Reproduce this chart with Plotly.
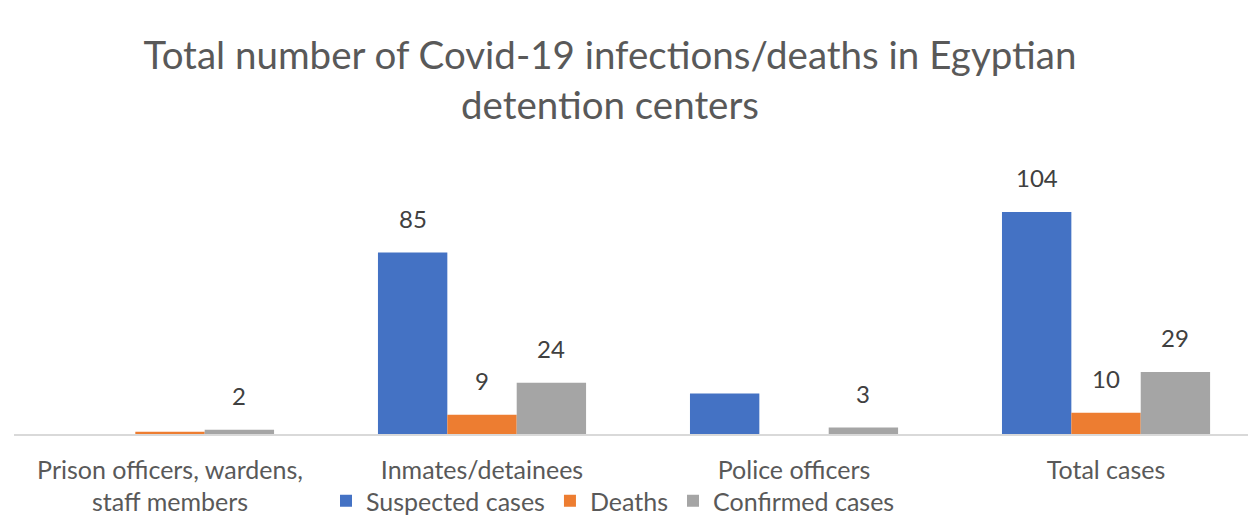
import plotly.graph_objects as go

categories = ["Prison officers, wardens,<br>staff members", "Inmates/detainees", "Police officers", "Total cases"]
series_names = ["Suspected cases", "Deaths", "Confirmed cases"]
suspected = [0, 85, 19, 104]
deaths = [1, 9, 0, 10]
confirmed = [2, 24, 3, 29]
# which values carry a data label in the original chart
suspected_labels = ["", "85", "", "104"]
deaths_labels = ["", "9", "", "10"]
confirmed_labels = ["2", "24", "3", "29"]

colors = ["#4472C4", "#ED7D31", "#A5A5A5"]
values = [suspected, deaths, confirmed]
labels = [suspected_labels, deaths_labels, confirmed_labels]

FONT = "Lato"
xpos = list(range(len(categories)))

fig = go.Figure()
for name, vals, col in zip(series_names, values, colors):
    fig.add_trace(go.Bar(x=xpos, y=vals, name=name, marker=dict(color=col, line=dict(width=0)),
                         hoverinfo="x+y"))

plot_left, plot_right = 14, 1248
bar_px = 312 * (1 - 0.333) / 3
annotations = []
for k, labs in enumerate(labels):
    for i, lab in enumerate(labs):
        if lab:
            annotations.append(dict(x=xpos[i], y=values[k][i], xref="x", yref="y", text=lab,
                                    showarrow=False, xshift=(k - 1) * bar_px, yshift=18,
                                    yanchor="bottom", xanchor="center",
                                    font=dict(family=FONT, size=24, color="#404040")))

fig.update_layout(
    width=1248, height=532,
    margin=dict(l=plot_left, r=0, t=150, b=98, pad=0),
    paper_bgcolor="white", plot_bgcolor="white",
    barmode="group", bargap=0.333, bargroupgap=0,
    title=dict(text="Total number of Covid-19 infections/deaths in Egyptian<br>detention centers",
               x=610 / 1248, xanchor="center", xref="container",
               y=1 - 69 / 532, yanchor="top", yref="container",
               font=dict(family=FONT, size=38.5, color="#595959")),
    xaxis=dict(tickmode="array", tickvals=xpos, ticktext=categories, range=[-0.5, 3.455],
               showgrid=False, zeroline=False, showline=True, linecolor="#D9D9D9", linewidth=1.5,
               ticks="", ticklabelstandoff=13,
               tickfont=dict(family=FONT, size=25, color="#595959")),
    yaxis=dict(range=[0, 133], visible=False, showgrid=False, zeroline=False),
    legend=dict(orientation="h", x=(613 - plot_left) / (plot_right - plot_left), xanchor="center",
                y=(434 - 501) / 284, yanchor="middle",
                font=dict(family=FONT, size=25, color="#595959"),
                itemwidth=30, tracegroupgap=0, bgcolor="rgba(0,0,0,0)"),
    annotations=annotations,
    showlegend=True,
)

fig.write_html("out.html")
